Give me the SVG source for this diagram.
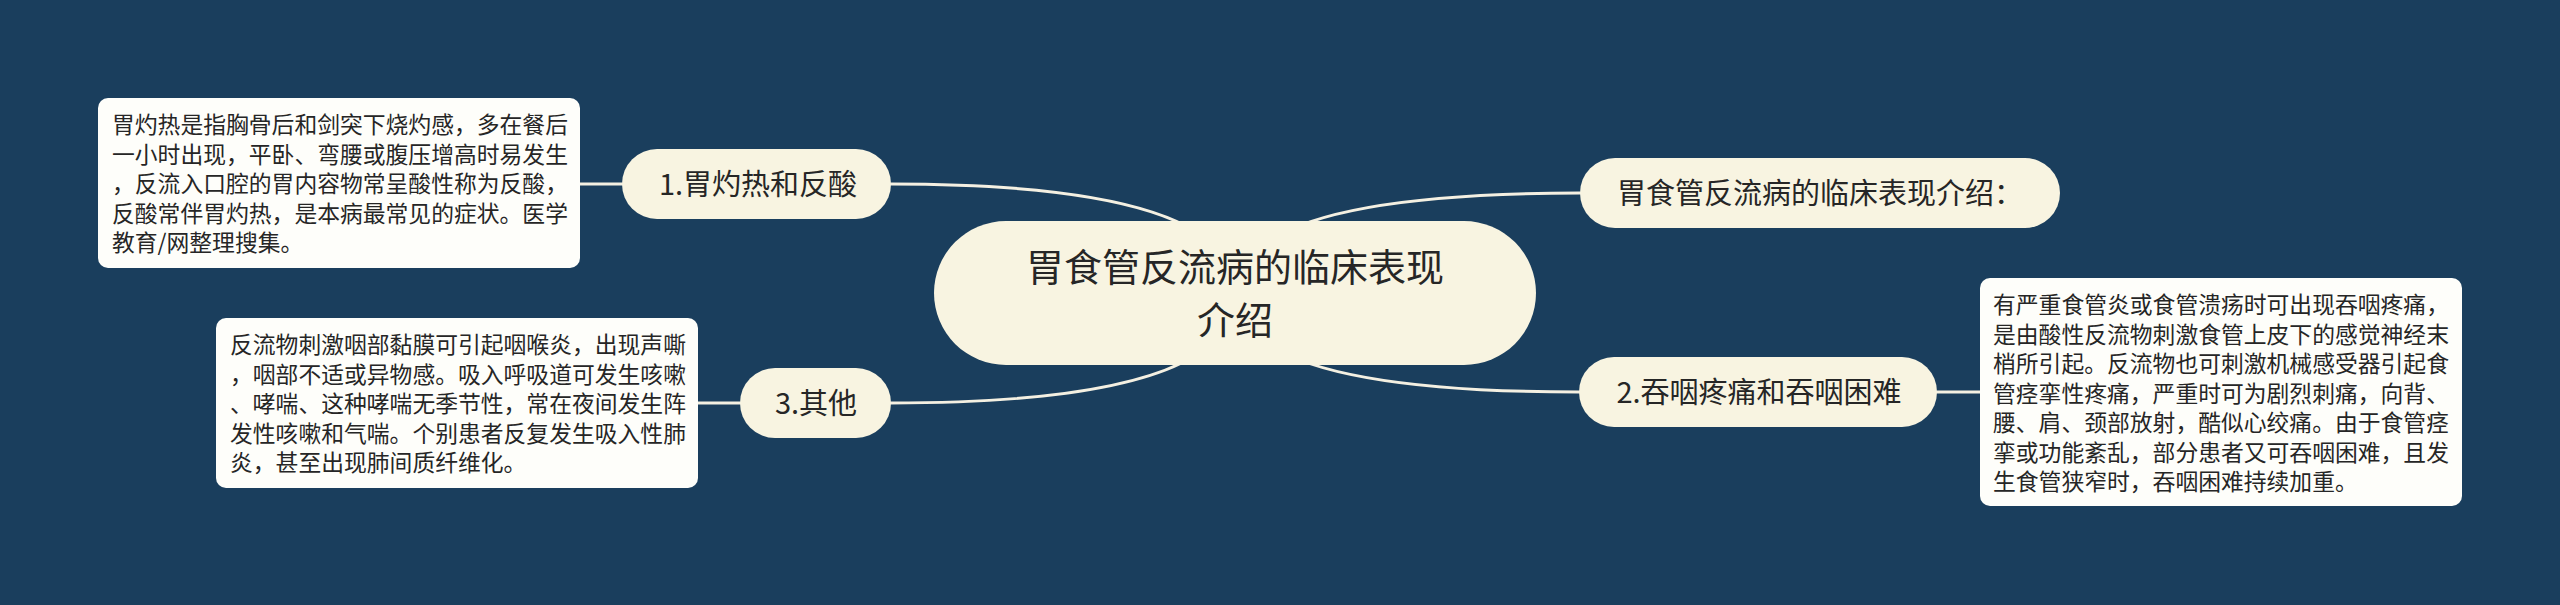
<svg xmlns="http://www.w3.org/2000/svg" width="2560" height="605" viewBox="0 0 2560 605">
<style>
.bg{fill:#1a3e5d}
.conn{fill:none;stroke:#f4f0e2;stroke-width:3;stroke-linecap:round}
.pill{fill:#f8f4e1}
.leaf{fill:#fefefa}
.t{font-family:"Noto Sans CJK SC","Noto Sans",sans-serif;fill:#262626}
.root{font-size:38px;text-anchor:middle}
.br{font-size:29px;text-anchor:middle}
.lf{font-size:22.8px}
</style>
<rect class="bg" x="0" y="0" width="2560" height="605"/>
<g id="connectors">
<path class="conn" d="M891 184 Q1236 184 1236 293"/>
<path class="conn" d="M891 403 Q1236 403 1236 293"/>
<path class="conn" d="M1580 193 Q1236 193 1236 293"/>
<path class="conn" d="M1579 392 Q1236 392 1236 293"/>
<path class="conn" d="M580 184 L622 184"/>
<path class="conn" d="M698 403 L740 403"/>
<path class="conn" d="M1937 392 L1980 392"/>
</g>
<g id="root">
<rect class="pill" x="934" y="221" width="602" height="144" rx="72"/>
<text class="t root" x="1235" y="281">胃食管反流病的临床表现</text>
<text class="t root" x="1235" y="334">介绍</text>
</g>
<g id="intro">
<rect class="pill" x="1580" y="158" width="480" height="70" rx="35"/>
<text class="t br" x="1820" y="204">胃食管反流病的临床表现介绍：</text>
</g>
<g id="node1">
<rect class="pill" x="622" y="149" width="269" height="70" rx="35"/>
<text class="t br" x="758" y="195">1.胃灼热和反酸</text>
</g>
<g id="node2">
<rect class="pill" x="1579" y="357" width="358" height="70" rx="35"/>
<text class="t br" x="1759" y="403">2.吞咽疼痛和吞咽困难</text>
</g>
<g id="node3">
<rect class="pill" x="740" y="368" width="151" height="70" rx="35"/>
<text class="t br" x="816" y="414">3.其他</text>
</g>
<g id="leaf1">
<rect class="leaf" x="98" y="98" width="482" height="170" rx="10"/>
<text class="t lf" x="112" y="133">胃灼热是指胸骨后和剑突下烧灼感，多在餐后</text>
<text class="t lf" x="112" y="162.5">一小时出现，平卧、弯腰或腹压增高时易发生</text>
<text class="t lf" x="112" y="192">，反流入口腔的胃内容物常呈酸性称为反酸，</text>
<text class="t lf" x="112" y="221.5">反酸常伴胃灼热，是本病最常见的症状。医学</text>
<text class="t lf" x="112" y="251">教育/网整理搜集。</text>
</g>
<g id="leaf3">
<rect class="leaf" x="216" y="318" width="482" height="170" rx="10"/>
<text class="t lf" x="230" y="353">反流物刺激咽部黏膜可引起咽喉炎，出现声嘶</text>
<text class="t lf" x="230" y="382.5">，咽部不适或异物感。吸入呼吸道可发生咳嗽</text>
<text class="t lf" x="230" y="412">、哮喘、这种哮喘无季节性，常在夜间发生阵</text>
<text class="t lf" x="230" y="441.5">发性咳嗽和气喘。个别患者反复发生吸入性肺</text>
<text class="t lf" x="230" y="471">炎，甚至出现肺间质纤维化。</text>
</g>
<g id="leaf2">
<rect class="leaf" x="1980" y="278" width="482" height="228" rx="10"/>
<text class="t lf" x="1993" y="313">有严重食管炎或食管溃疡时可出现吞咽疼痛，</text>
<text class="t lf" x="1993" y="342.5">是由酸性反流物刺激食管上皮下的感觉神经末</text>
<text class="t lf" x="1993" y="372">梢所引起。反流物也可刺激机械感受器引起食</text>
<text class="t lf" x="1993" y="401.5">管痉挛性疼痛，严重时可为剧烈刺痛，向背、</text>
<text class="t lf" x="1993" y="431">腰、肩、颈部放射，酷似心绞痛。由于食管痉</text>
<text class="t lf" x="1993" y="460.5">挛或功能紊乱，部分患者又可吞咽困难，且发</text>
<text class="t lf" x="1993" y="490">生食管狭窄时，吞咽困难持续加重。</text>
</g>
</svg>
